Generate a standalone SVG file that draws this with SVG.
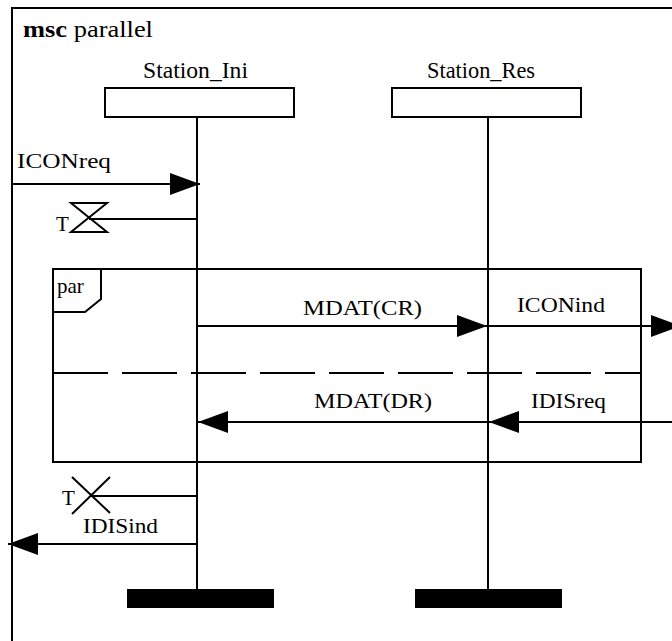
<svg xmlns="http://www.w3.org/2000/svg" width="672" height="641" viewBox="0 0 672 641">
<style>
  .ln { stroke:#000; stroke-width:2; fill:none; }
  .box { stroke:#000; stroke-width:2; fill:#fff; }
  .bar { fill:#000; }
  .t { font-family:"Liberation Serif","Times New Roman",serif; fill:#000; }
  .name { font-size:23px; }
  .msg { font-size:20px; }
</style>
<defs>
  <marker id="ah" markerUnits="userSpaceOnUse" markerWidth="30" markerHeight="22" refX="30" refY="11" orient="auto" overflow="visible">
    <path d="M0,0 L30,11 L0,22 z" fill="#000"/>
  </marker>
</defs>
<rect width="672" height="641" fill="#fff"/>

<g id="frame">
  <rect x="12" y="8" width="720" height="720" class="ln"/>
  <text class="t" x="23" y="37" font-size="23" textLength="130" lengthAdjust="spacingAndGlyphs"><tspan font-weight="bold">msc</tspan> parallel</text>
</g>

<g id="par">
  <rect x="53" y="269" width="588" height="193" class="ln"/>
  <polyline points="101,269 101,299 85,312 53,312" class="ln"/>
  <text class="t" x="57" y="293" font-size="21">par</text>
  <line x1="53" y1="373" x2="641" y2="373" class="ln" stroke-dasharray="55 14"/>
</g>

<g id="station_ini">
  <text class="t name" x="143" y="78" textLength="105" lengthAdjust="spacingAndGlyphs">Station_Ini</text>
  <rect x="105" y="88" width="189" height="29" class="box"/>
  <line x1="197" y1="117" x2="197" y2="589" class="ln"/>
  <rect x="127" y="589" width="147" height="19" class="bar"/>
</g>

<g id="station_res">
  <text class="t name" x="427" y="78" textLength="108" lengthAdjust="spacingAndGlyphs">Station_Res</text>
  <rect x="392" y="88" width="189" height="29" class="box"/>
  <line x1="488" y1="117" x2="488" y2="589" class="ln"/>
  <rect x="415" y="589" width="147" height="19" class="bar"/>
</g>

<g id="timer_set">
  <polygon points="71,203 107,203 71,232 107,232" class="ln"/>
  <text class="t" x="56" y="231" font-size="21">T</text>
</g>

<g id="timer_timeout">
  <line x1="72" y1="477" x2="110" y2="513" class="ln"/>
  <line x1="110" y1="477" x2="72" y2="514" class="ln"/>
  <text class="t" x="62" y="505" font-size="21">T</text>
</g>

<g id="connectors">
  <line x1="12" y1="184" x2="200" y2="184" class="ln" marker-end="url(#ah)"/>
  <line x1="89" y1="219" x2="197" y2="219" class="ln"/>
  <line x1="197" y1="326" x2="487" y2="326" class="ln" marker-end="url(#ah)"/>
  <line x1="488" y1="326" x2="681" y2="326" class="ln" marker-end="url(#ah)"/>
  <line x1="488" y1="422" x2="198" y2="422" class="ln" marker-end="url(#ah)"/>
  <line x1="672" y1="422" x2="489" y2="422" class="ln" marker-end="url(#ah)"/>
  <line x1="91" y1="496" x2="197" y2="496" class="ln"/>
  <line x1="197" y1="544" x2="8" y2="544" class="ln" marker-end="url(#ah)"/>
</g>

<g id="labels">
  <text class="t msg" x="17" y="168" textLength="94" lengthAdjust="spacingAndGlyphs">ICONreq</text>
  <text class="t msg" x="303" y="315" textLength="119" lengthAdjust="spacingAndGlyphs">MDAT(CR)</text>
  <text class="t msg" x="517" y="312" textLength="88" lengthAdjust="spacingAndGlyphs">ICONind</text>
  <text class="t msg" x="314" y="408" textLength="118" lengthAdjust="spacingAndGlyphs">MDAT(DR)</text>
  <text class="t msg" x="531" y="408" textLength="75" lengthAdjust="spacingAndGlyphs">IDISreq</text>
  <text class="t msg" x="83" y="533" textLength="75" lengthAdjust="spacingAndGlyphs">IDISind</text>
</g>
</svg>
